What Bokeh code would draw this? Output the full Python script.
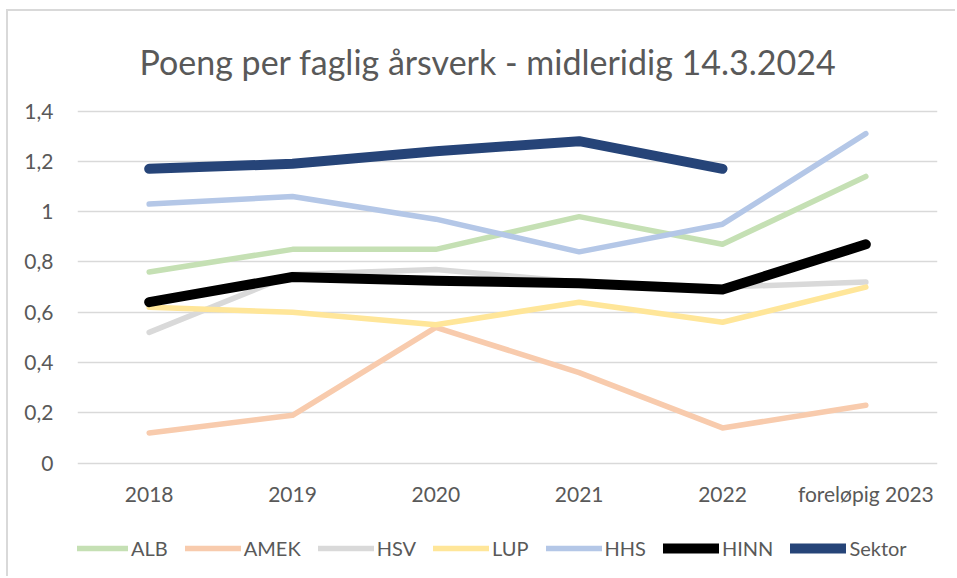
from bokeh.plotting import figure
from bokeh.models import Range1d, FixedTicker, Legend, LegendItem
from bokeh.embed import file_html
from bokeh.resources import INLINE

categories = ["2018", "2019", "2020", "2021", "2022", "foreløpig 2023"]
alb = [0.76, 0.85, 0.85, 0.98, 0.87, 1.14]
amek = [0.12, 0.19, 0.54, 0.36, 0.14, 0.23]
hsv = [0.52, 0.75, 0.77, 0.72, 0.70, 0.72]
lup = [0.62, 0.60, 0.55, 0.64, 0.56, 0.70]
hhs = [1.03, 1.06, 0.97, 0.84, 0.95, 1.31]
hinn = [0.64, 0.74, 0.725, 0.715, 0.69, 0.87]
sektor = [1.17, 1.19, 1.24, 1.28, 1.17, float("nan")]

y_ticks = [0.0, 0.2, 0.4, 0.6, 0.8, 1.0, 1.2, 1.4]
y_tick_labels = ["0", "0,2", "0,4", "0,6", "0,8", "1", "1,2", "1,4"]

series = [
    ("ALB", alb, "#C5E0B4", 5.5),
    ("AMEK", amek, "#F8CBAD", 5.5),
    ("HSV", hsv, "#D9D9D9", 5.5),
    ("LUP", lup, "#FFE699", 5.5),
    ("HHS", hhs, "#B4C7E7", 5.5),
    ("HINN", hinn, "#000000", 10),
    ("Sektor", sektor, "#264478", 10),
]

FONT = "Lato"
TXT = "#595959"

# frame spans down to the canvas bottom so that the legend can sit inside it
p = figure(width=949, height=567, x_range=categories, y_range=Range1d(-0.4507, 1.41),
           output_backend="svg", toolbar_location=None,
           min_border_left=69, min_border_right=20, min_border_top=97, min_border_bottom=2)
p.outline_line_color = None
p.background_fill_color = "white"
p.border_fill_color = "white"
p.styles = {"margin-left": "6px", "margin-top": "9px",
            "border-left": "2px solid #D9D9D9", "border-top": "2px solid #D9D9D9"}

p.title.text = "Poeng per faglig årsverk - midleridig 14.3.2024"
p.title.align = "left"
p.title.offset = 62
p.title.standoff = 53
p.title.text_font = FONT
p.title.text_font_size = "34px"
p.title.text_font_style = "normal"
p.title.text_color = TXT

p.xgrid.grid_line_color = None
p.ygrid.grid_line_color = "#D9D9D9"
p.ygrid.grid_line_width = 1.5
p.yaxis.ticker = FixedTicker(ticks=y_ticks)
p.yaxis.major_label_overrides = {v: lab for v, lab in zip(y_ticks, y_tick_labels)}

for ax in (p.xaxis, p.yaxis):
    ax.axis_line_color = None
    ax.major_tick_line_color = None
    ax.minor_tick_line_color = None
    ax.major_tick_in = 0
    ax.major_tick_out = 0
    ax.minor_tick_out = 0
    ax.major_label_text_font = FONT
    ax.major_label_text_font_size = "21px"
    ax.major_label_text_color = TXT
p.yaxis.major_label_standoff = 24
p.xaxis.major_label_standoff = -96

items = []
for name, vals, color, w in series:
    r = p.line(categories, vals, line_color=color, line_width=w,
               line_join="round", line_cap="round")
    items.append(LegendItem(label=name, renderers=[r]))

legend = Legend(items=items, orientation="horizontal", location=(-5, 16),
                glyph_width=56, glyph_height=24, label_standoff=3, spacing=17,
                padding=0, margin=0, border_line_color=None, background_fill_alpha=0,
                label_text_font=FONT, label_text_font_size="20px", label_text_color=TXT)
p.add_layout(legend, "center")

open("out.html", "w").write(file_html(p, INLINE))
